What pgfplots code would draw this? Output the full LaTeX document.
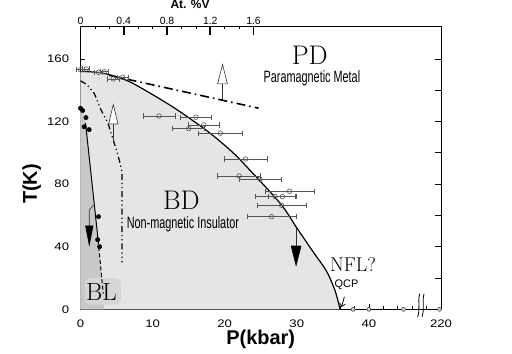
\documentclass[border=0pt]{standalone}
\usepackage{pgfplots}
\pgfplotsset{compat=1.18}
\usetikzlibrary{arrows.meta}
\usepackage{fontspec}
\newfontfamily\sans{Liberation Sans}
\definecolor{lightfill}{RGB}{229,229,231}
\definecolor{darkfill}{RGB}{200,200,200}
\definecolor{halo}{RGB}{214,214,214}
\definecolor{ebar}{RGB}{85,85,85}
\begin{document}
\begin{tikzpicture}
\path[use as bounding box] (-80.5bp,-44.7bp) rectangle (431.5bp,309.3bp);
% main axis
\begin{axis}[
  at={(0,0)}, anchor=south west,
  scale only axis, width=360.5bp, height=283.3bp,
  xmin=0, xmax=50, ymin=0, ymax=181,
  axis x line*=bottom, axis y line*=left,
  axis line style={-, line width=0.8bp},
  tick align=inside,
  xtick={0,10,20,30,40,50}, xticklabels={0,10,20,30,40,220},
  minor x tick num=4,
  ytick={0,40,80,120,160}, minor y tick num=5,
  major tick length=5bp, minor tick length=3bp,
  tick style={line width=0.7bp, black},
  ticklabel style={font=\sans\fontsize{11}{13}\selectfont, xscale=1.2},
  xticklabel style={yshift=-7bp},
  yticklabel style={xshift=-6bp},
  /pgf/number format/assume math mode=true,
  clip=false,
]
% light BD region
\addplot[draw=none, fill=lightfill, smooth] coordinates {
 (0,152) (3,151) (6.2,146.6) (8.5,141.2) (13.1,128.4) (17.7,113.5) (21,100.7)
 (23.05,91.1) (27.7,67.7) (30,52) (32.3,36.5) (34.1,24.5) (35.3,12) (36,0)} \closedcycle;
% dark BL region
\addplot[draw=none, fill=darkfill] coordinates {
 (0,0) (0,128) (0.5,124) (0.75,118) (2.45,44) (3.15,12) (3.3,0)} \closedcycle;
% halo behind BL label
\fill[halo, rounded corners=5bp] (axis cs:0.6,3) rectangle (axis cs:5.6,20);
% PD/BD boundary
\addplot[black, line width=1.2bp, smooth] coordinates {
 (0,152) (3,151) (6.2,146.6) (8.5,141.2) (13.1,128.4) (17.7,113.5) (21,100.7)
 (23.05,91.1) (27.7,67.7) (30,52) (32.3,36.5) (34.1,24.5) (35.3,12) (36,0)};
% upper dash-dot line
\addplot[black, line width=1.6bp, dash pattern=on 9bp off 4bp on 1.6bp off 4bp]
 coordinates {(4,149.5) (24.7,128.5)};
% left dash-dot line
\addplot[black, line width=1.2bp, dash pattern=on 6bp off 3bp on 1.2bp off 3bp on 1.2bp off 3bp]
 coordinates {(0,146) (0.9,143.5) (1.9,138) (2.85,127.4) (3.8,119) (4.9,103) (5.4,95) (5.75,88) (5.75,30)};
% BL boundary
\addplot[black, line width=1bp] coordinates {(0.7,119) (2.45,44)};
\addplot[black, line width=1bp, dash pattern=on 4bp off 2.5bp] coordinates {(2.45,44) (3.15,10)};
% BL data
\addplot[only marks, mark=*, mark size=2.2bp, black] coordinates {
 (0,128.4) (0.3,127) (0.76,122.5) (0.5,116.6) (1.2,114.8) (2.5,59.2) (2.38,44.5) (2.65,40)};
% PD/BD data with error bars
\addplot[only marks, mark=o, mark size=2.3bp,
  mark options={fill=white, draw=ebar, line width=0.6bp},
  error bars/.cd, x dir=both, x explicit,
  error bar style={ebar, line width=0.8bp},
  error mark options={rotate=90, mark size=2.6bp, ebar, line width=0.8bp}]
 coordinates {
 (0,153) +- (0.5,0) (0.8,153.5) +- (0.5,0) (2.5,151.4) +- (0.6,0) (3.3,151.8) +- (0.6,0)
 (4.55,147.2) +- (0.8,0) (5.85,148.2) +- (0.8,0)
 (10.9,123.5) +- (2.2,0) (16.0,122.7) +- (2.2,0) (17.1,117.8) +- (2.2,0)
 (15.0,115.4) +- (2.2,0) (19.4,112.5) +- (3.0,0) (22.9,96.0) +- (3.0,0)
 (22.0,85.2) +- (3.0,0) (24.9,83.1) +- (2.9,0) (29.0,75.4) +- (3.4,0)
 (27.0,72.0) +- (2.8,0) (28.0,72.0) +- (2.0,0) (27.9,66.4) +- (3.4,0)
 (26.5,59.2) +- (3.4,0)};
% high-pressure points
\addplot[only marks, mark=*, mark size=2bp, mark options={fill=gray!35, draw=gray!60!black, line width=0.6bp}]
 coordinates {(37.8,0) (40,0) (44.8,0) (49.8,0)};
% arrows
\draw[gray!40!black, line width=0.6bp, -{Triangle[open, length=21bp, width=10.5bp, fill=white]}]
 (axis cs:19.7,133.7) -- (axis cs:19.7,157.2);
\draw[gray!40!black, line width=0.6bp, -{Triangle[open, length=21bp, width=10bp, fill=white]}]
 (axis cs:4.55,106) -- (axis cs:4.55,131.6);
\draw[gray!40!black, line width=0.6bp, -{Triangle[length=21bp, width=10.5bp, black]}]
 (axis cs:29.9,52) -- (axis cs:29.9,27.2);
\draw[gray!40!black, line width=0.6bp, -{Triangle[length=21bp, width=8bp, black]}]
 (axis cs:1.78,66.6) -- (axis cs:1.22,63.4) -- (axis cs:1.22,40);
\draw[black, line width=0.8bp, -{Straight Barb[length=3bp]}]
 (axis cs:36.6,8) -- (axis cs:36.2,1.5);
% axis break marks
\draw[black, line width=0.8bp] (axis cs:46.75,-5) .. controls (axis cs:47.15,0) and (axis cs:46.75,5) .. (axis cs:47.05,10);
\draw[black, line width=0.8bp] (axis cs:47.35,-5) .. controls (axis cs:47.75,0) and (axis cs:47.35,5) .. (axis cs:47.65,10);
% labels
\node[font=\fontsize{27}{27}\selectfont] at (axis cs:31.8,162.3) {PD};
\node[font=\sans\fontsize{16.5}{16.5}\selectfont, xscale=0.66] at (axis cs:32.1,147.6) {Paramagnetic Metal};
\node[font=\fontsize{27}{27}\selectfont] at (axis cs:14.0,69.8) {BD};
\node[font=\sans\fontsize{16.5}{16.5}\selectfont, xscale=0.66] at (axis cs:14.2,54.5) {Non-magnetic Insulator};
\node[font=\fontsize{25}{25}\selectfont] at (axis cs:2.9,11.2) {BL};
\node[font=\fontsize{20}{20}\selectfont] at (axis cs:37.8,28.6) {NFL?};
\node[font=\sans\fontsize{11}{11}\selectfont] at (axis cs:36.9,15.5) {QCP};
\node[font=\sans\bfseries\fontsize{20}{20}\selectfont] at (axis cs:25,-19) {P(kbar)};
\node[font=\sans\bfseries\fontsize{20}{20}\selectfont, rotate=90] at (axis cs:-6.77,80) {T(K)};
\node[font=\sans\bfseries\fontsize{12}{12}\selectfont] at (axis cs:15.2,195) {At. \%V};
\end{axis}
% top axis (At. %V)
\begin{axis}[
  at={(0,0)}, anchor=south west,
  scale only axis, width=360.5bp, height=283.3bp,
  xmin=0, xmax=3.33333, ymin=0, ymax=181,
  axis x line*=top, axis y line=none,
  axis line style={-, line width=0.8bp},
  tick align=inside,
  xtick={0,0.4,0.8,1.2,1.6}, xticklabels={0,0.4,0.8,1.2,1.6},
  minor xtick={0.1333,0.2667,0.5333,0.6667,0.9333,1.0667,1.3333,1.4667},
  major tick length=9bp, minor tick length=3bp,
  major tick style={line width=1.6bp, black},
  minor tick style={line width=0.7bp, black},
  xticklabel style={font=\sans\fontsize{10.5}{12}\selectfont, yshift=-2.5bp},
]
\end{axis}
% right axis
\begin{axis}[
  at={(0,0)}, anchor=south west,
  scale only axis, width=360.5bp, height=283.3bp,
  xmin=0, xmax=50, ymin=0, ymax=181,
  axis y line*=right, axis x line=none,
  axis line style={-, line width=0.8bp},
  tick align=inside,
  ytick={20,40,...,160}, yticklabels={},
  major tick length=6bp,
  tick style={line width=0.7bp, black},
]
\end{axis}
\end{tikzpicture}
\end{document}
